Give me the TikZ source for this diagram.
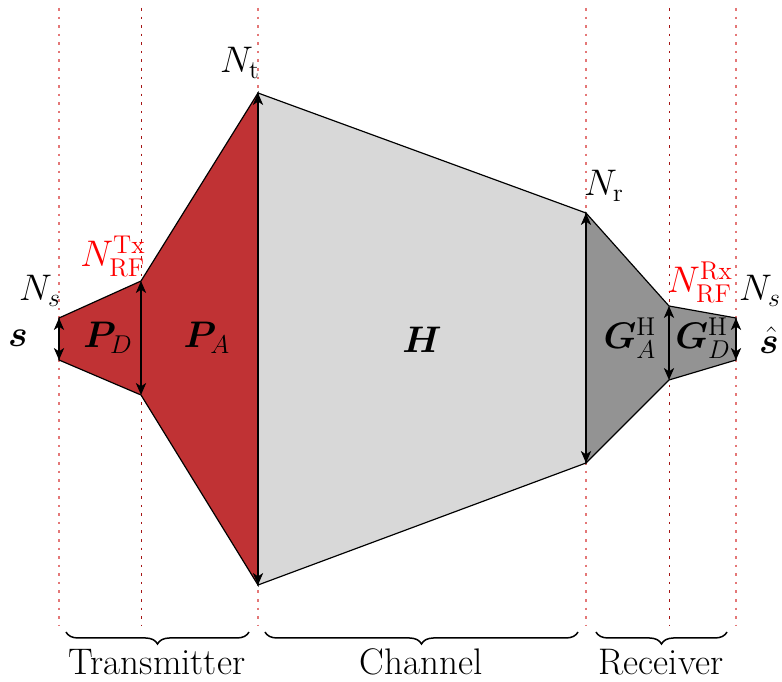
\documentclass[tikz,border=0pt]{standalone}
\usepackage{bm}
\usetikzlibrary{arrows.meta,decorations.pathreplacing}
\definecolor{txred}{RGB}{192,50,52}
\definecolor{chgray}{RGB}{216,216,216}
\definecolor{rxgray}{RGB}{147,147,147}
\definecolor{guidered}{RGB}{228,120,120}
\definecolor{guidedark}{RGB}{165,20,20}
\tikzset{
  guide/.style={guidered, line width=0.9pt, dash pattern=on 1.2pt off 2.8pt},
  guidedk/.style={guidedark, line width=0.4pt, dash pattern=on 1.2pt off 2.8pt},
  block/.style={draw=black, line width=0.55pt, line join=miter},
  dim/.style={line width=0.7pt, {Stealth[length=5.6pt,width=4.8pt,inset=1.6pt]}-{Stealth[length=5.6pt,width=4.8pt,inset=1.6pt]}},
  lbl/.style={inner sep=0pt, font=\LARGE},
  brc/.style={decorate, decoration={brace, mirror, amplitude=5.6pt}, line width=0.7pt},
}
\begin{document}
\begin{tikzpicture}[x=0.467pt, y=-0.467pt]
\useasboundingbox (0,0) rectangle (782,682);
% key points
\coordinate (a1) at (59,318); \coordinate (a2) at (59,360);
\coordinate (b1) at (141,281); \coordinate (b2) at (141,395);
\coordinate (c1) at (258,93); \coordinate (c2) at (258,585);
\coordinate (d1) at (586,213); \coordinate (d2) at (586,463);
\coordinate (e1) at (669,306); \coordinate (e2) at (669,380);
\coordinate (f1) at (736,318); \coordinate (f2) at (736,360);
% guide lines
\foreach \x/\n in {59/ga,258/gc,586/gd,736/gf}{
  \coordinate (\n t) at (\x,8); \coordinate (\n b) at (\x,625);
  \draw[guide] (\n t) -- (\n b);
}
\foreach \x/\n in {141/gb,669/ge}{
  \coordinate (\n t) at (\x,8); \coordinate (\n b) at (\x,625);
  \draw[guidedk] (\n t) -- (\n b);
}
% blocks
\draw[block, fill=txred] (a1) -- (b1) -- (c1) -- (c2) -- (b2) -- (a2) -- cycle;
\draw[block, fill=chgray] (c1) -- (d1) -- (d2) -- (c2) -- cycle;
\draw[block, fill=rxgray] (d1) -- (e1) -- (f1) -- (f2) -- (e2) -- (d2) -- cycle;
% dimension arrows
\draw[dim] (a1) -- (a2);
\draw[dim] (b1) -- (b2);
\draw[dim] (c1) -- (c2);
\draw[dim] (d1) -- (d2);
\draw[dim] (e1) -- (e2);
\draw[dim] (f1) -- (f2);
% labels
\node[lbl] (nsl) at (40,291) {$N_s$};
\node[lbl, text=red] (nrftx) at (113,256) {$N_{\mathrm{RF}}^{\mathrm{Tx}}$};
\node[lbl] (nt) at (240,63) {$N_{\mathrm{t}}$};
\node[lbl] (nr) at (604,186) {$N_{\mathrm{r}}$};
\node[lbl, text=red] (nrfrx) at (700,282) {$N_{\mathrm{RF}}^{\mathrm{Rx}}$};
\node[lbl] (nsr) at (760,291) {$N_s$};
\node[lbl] (s) at (18,338) {$\bm{s}$};
\node[lbl] (shat) at (769,340) {$\hat{\bm{s}}$};
\node[lbl] (pd) at (108,338) {$\bm{P}_D$};
\node[lbl] (pa) at (207,338) {$\bm{P}_A$};
\node[lbl] (h) at (422,340) {$\bm{H}$};
\node[lbl] (ga) at (630,338) {$\bm{G}_A^{\mathrm{H}}$};
\node[lbl] (gd) at (703,338) {$\bm{G}_D^{\mathrm{H}}$};
% braces
\coordinate (tb1) at (66,632); \coordinate (tb2) at (249,632);
\coordinate (cb1) at (265,632); \coordinate (cb2) at (578,632);
\coordinate (rb1) at (596,632); \coordinate (rb2) at (727,632);
\draw[brc] (tb1) -- (tb2);
\draw[brc] (cb1) -- (cb2);
\draw[brc] (rb1) -- (rb2);
\node[lbl] (tx) at (157,662) {Transmitter};
\node[lbl] (ch) at (421,662) {Channel};
\node[lbl] (rx) at (661,662) {Receiver};
\end{tikzpicture}
\end{document}
